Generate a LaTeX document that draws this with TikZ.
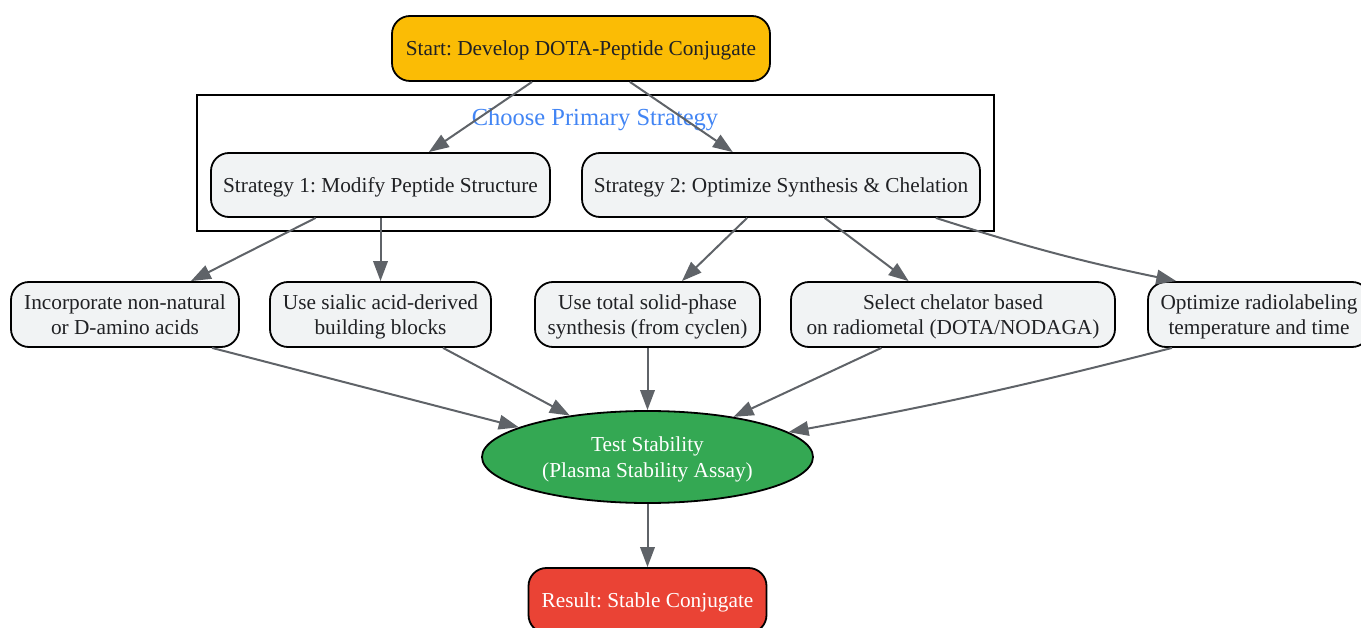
\documentclass[tikz,border=0pt]{standalone}
\usepackage{fontspec}
\setmainfont{Liberation Serif}
\frenchspacing
\usetikzlibrary{arrows.meta,shapes.geometric}

\definecolor{startfill}{HTML}{FBBC05}
\definecolor{stepfill}{HTML}{F1F3F4}
\definecolor{testfill}{HTML}{34A853}
\definecolor{resultfill}{HTML}{EA4335}
\definecolor{labelblue}{HTML}{4285F4}
\definecolor{edgegray}{HTML}{5F6368}
\definecolor{darktext}{HTML}{202124}

\newcommand{\nodefont}{\fontsize{21.3}{25.5}\selectfont}

\tikzset{
  stepbox/.style={draw=black, line width=1.8pt, rounded corners=18pt, fill=stepfill,
    text=darktext, align=center, inner sep=0pt, text depth=0pt, minimum height=65pt, font=\nodefont},
  startbox/.style={stepbox, fill=startfill},
  resultbox/.style={stepbox, fill=resultfill, text=white},
  testell/.style={ellipse, draw=black, line width=1.8pt, fill=testfill, text=white,
    align=center, inner sep=0pt, text depth=0pt, minimum width=331pt, minimum height=92pt, font=\nodefont},
  flow/.style={draw=edgegray, line width=2pt, -{Triangle[length=20pt,width=14.5pt]}}
}

\begin{document}
\begin{tikzpicture}[x=1pt,y=1pt,yscale=-1]
\useasboundingbox (0,0) rectangle (1361,628);

%Cluster: strategy choice
\draw[line width=1.8pt] (197,95) rectangle (994,231);
\node[text=labelblue, font=\fontsize{24.5}{29}\selectfont] (choose) at (595,119.5) {Choose Primary Strategy};

% Start node
\node[startbox, minimum width=378pt] (start) at (581,48.5) {Start: Develop DOTA-Peptide Conjugate};

% Strategies
\node[stepbox, minimum width=339pt, minimum height=64pt] (strat1) at (380.5,185) {Strategy 1: Modify Peptide Structure};
\node[stepbox, minimum width=398pt, minimum height=64pt] (strat2) at (781,185) {Strategy 2: Optimize Synthesis \& Chelation};

% Options
\node[stepbox, minimum width=228pt] (nonnat) at (125,314.5) {Incorporate non-natural\\or D-amino acids};
\node[stepbox, minimum width=221pt] (sialic) at (380.5,314.5) {Use sialic acid-derived\\building blocks};
\node[stepbox, minimum width=225pt] (solid) at (647.5,314.5) {Use total solid-phase\\synthesis (from cyclen)};
\node[stepbox, minimum width=324pt] (chelator) at (953,314.5) {Select chelator based\\on radiometal (DOTA/NODAGA)};
\node[stepbox, minimum width=222pt] (labeling) at (1259,314.5) {Optimize radiolabeling\\temperature and time};

% Test and result
\node[testell] (test) at (647.5,457) {Test Stability\\(Plasma Stability Assay)};
\node[resultbox, minimum width=238pt] (result) at (647.5,600.5) {Result: Stable Conjugate};

% Edges
\draw[flow] (start) -- (strat1);
\draw[flow] (start) -- (strat2);
\draw[flow] (strat1) -- (nonnat);
\draw[flow] (strat1) -- (sialic);
\draw[flow] (strat2) -- (solid);
\draw[flow] (strat2) -- (chelator);
\draw[flow] (strat2.-12) to[bend left=3] (labeling.158);
\draw[flow] (nonnat.-21.5) -- (test.167);
\draw[flow] (sialic) -- (test);
\draw[flow] (solid) -- (test);
\draw[flow] (chelator) -- (test);
\draw[flow] (labeling.201.6) to[bend right=2] (test.10);
\draw[flow] (test) -- (result);

\end{tikzpicture}
\end{document}
